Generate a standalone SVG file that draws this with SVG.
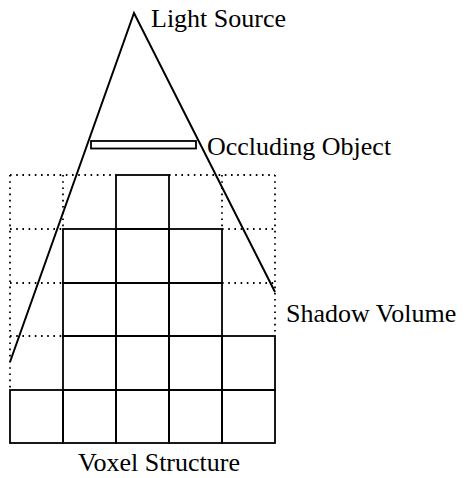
<svg xmlns="http://www.w3.org/2000/svg" width="466" height="478" viewBox="0 0 466 478">
<style>
.lbl{font-family:"Liberation Serif","Times New Roman",serif;font-size:26px;fill:#000}
.cell{fill:none;stroke:#000;stroke-width:1.8}
.dot{fill:none;stroke:#000;stroke-width:1.8;stroke-dasharray:1.6 4.6}
.ray{fill:none;stroke:#000;stroke-width:2}
</style>
<rect width="466" height="478" fill="#fff"/>
<g id="empty-voxels">
<path class="dot" d="M10 175H116M169 175H275M10 229H63M222 229H275M10 283H63M222 283H275M10 336H63"/>
<path class="dot" d="M10 175V390M63 175V229M222 175V229M275 175V336"/>
</g>
<g id="voxel-structure">
<rect class="cell" x="116" y="175" width="53" height="54"/>
<rect class="cell" x="63" y="229" width="53" height="54"/>
<rect class="cell" x="116" y="229" width="53" height="54"/>
<rect class="cell" x="169" y="229" width="53" height="54"/>
<rect class="cell" x="63" y="283" width="53" height="53"/>
<rect class="cell" x="116" y="283" width="53" height="53"/>
<rect class="cell" x="169" y="283" width="53" height="53"/>
<rect class="cell" x="63" y="336" width="53" height="54"/>
<rect class="cell" x="116" y="336" width="53" height="54"/>
<rect class="cell" x="169" y="336" width="53" height="54"/>
<rect class="cell" x="222" y="336" width="53" height="54"/>
<rect class="cell" x="10" y="390" width="53" height="53"/>
<rect class="cell" x="63" y="390" width="53" height="53"/>
<rect class="cell" x="116" y="390" width="53" height="53"/>
<rect class="cell" x="169" y="390" width="53" height="53"/>
<rect class="cell" x="222" y="390" width="53" height="53"/>
<text class="lbl" x="78" y="471">Voxel Structure</text>
</g>
<g id="connectors">
<path class="ray" d="M10 362L134 13L275 292"/>
</g>
<g id="light-source">
<text class="lbl" x="151" y="27">Light Source</text>
</g>
<g id="occluding-object">
<rect x="91" y="141" width="105" height="7.5" fill="#fff" stroke="#000" stroke-width="1.8"/>
<text class="lbl" x="207" y="155">Occluding Object</text>
</g>
<g id="shadow-volume">
<text class="lbl" x="286" y="322">Shadow Volume</text>
</g>
</svg>
